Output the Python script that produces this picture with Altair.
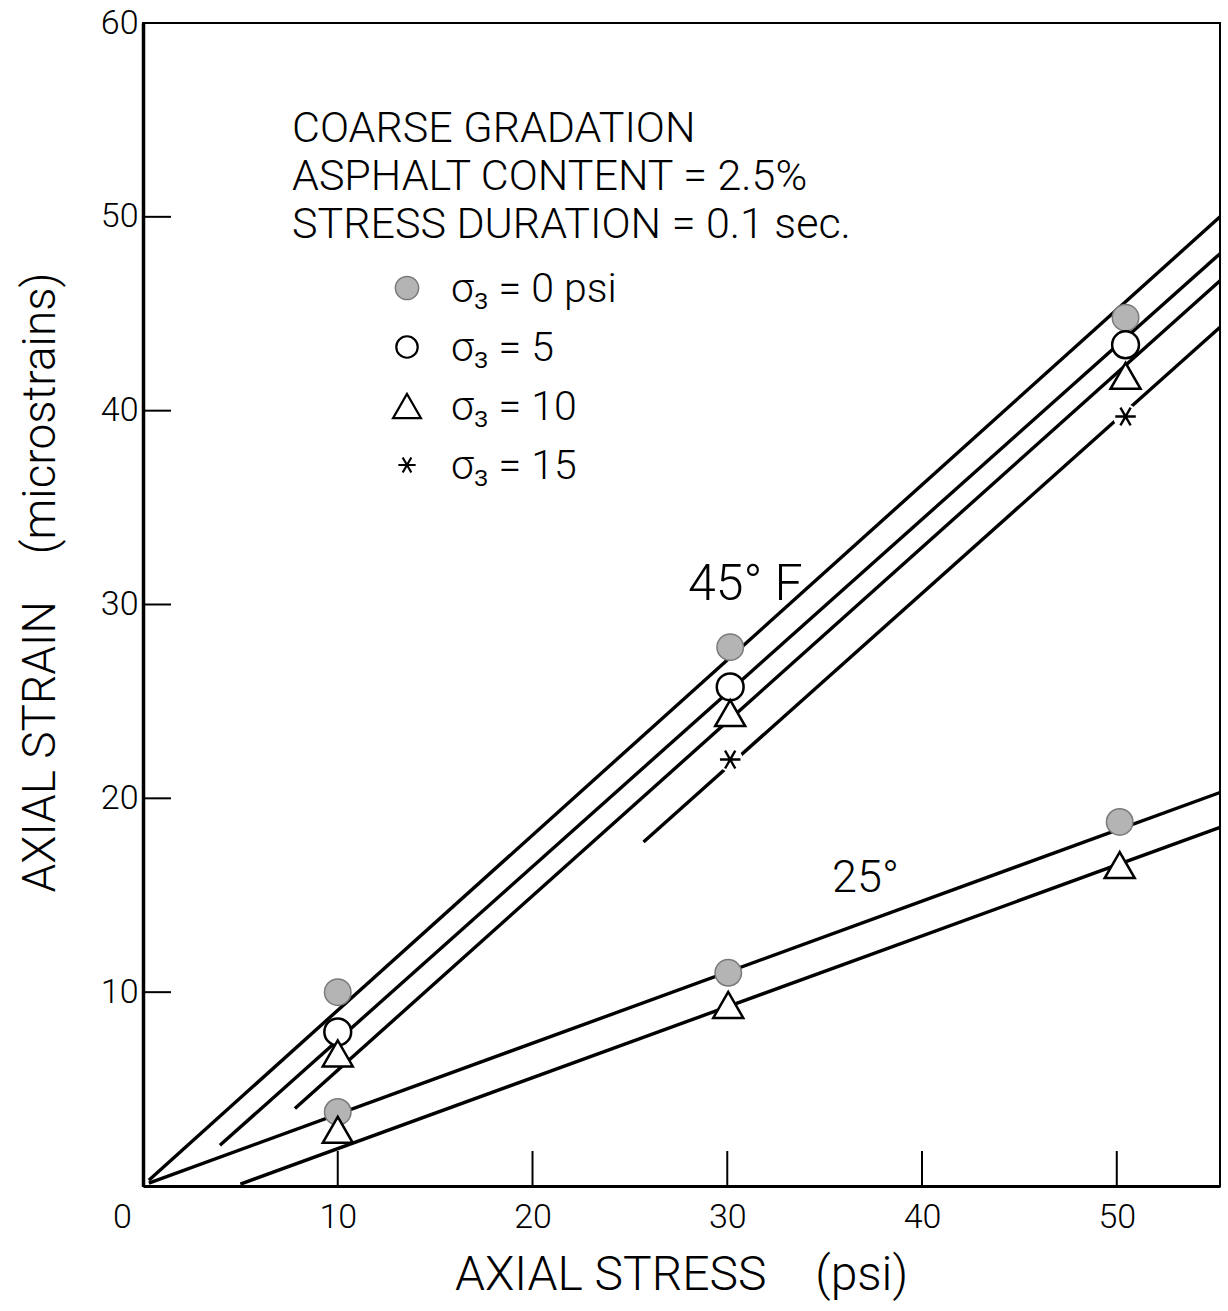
import altair as alt
import pandas as pd

# ---------------- data ----------------
stress45 = [10.0, 30.15, 50.45]
stress25 = [10.0, 30.05, 50.15]
s45_p0 = [10.0, 27.8, 44.8]
s45_p5 = [7.95, 25.75, 43.4]
s45_p10 = [6.84, 24.4, 41.8]
stress_p15 = [30.15, 50.45]
s45_p15 = [22.0, 39.7]
s25_p0 = [3.82, 11.0, 18.78]
s25_p10 = [2.9, 9.34, 16.56]

# fitted straight lines (start / end points as drawn)
line_names = ["45F s0", "45F s5", "45F s10", "45F s15", "25F s0", "25F s10"]
line_x1 = [0.3, 3.95, 7.8, 25.7, 0.3, 5.0]
line_y1 = [0.3, 2.1, 4.0, 17.75, 0.15, 0.1]
line_x2 = [55.3, 55.3, 55.3, 55.3, 55.3, 55.3]
line_y2 = [50.0, 48.1, 46.7, 44.3, 20.3, 18.5]

x_ticks = [0, 10, 20, 30, 40, 50]
y_ticks = [10, 20, 30, 40, 50, 60]
inner_x_ticks = [10, 20, 30, 40, 50]
inner_y_ticks = [10, 20, 30, 40, 50]

legend_labels = ["σ₃ = 0 psi", "σ₃ = 5", "σ₃ = 10", "σ₃ = 15"]
notes = ["COARSE GRADATION", "ASPHALT CONTENT = 2.5%", "STRESS DURATION = 0.1 sec."]

# ---------------- tables ----------------
pts = []
pts += [dict(x=a, y=b, m="filled") for a, b in zip(stress45, s45_p0)]
pts += [dict(x=a, y=b, m="filled") for a, b in zip(stress25, s25_p0)]
pts += [dict(x=a, y=b, m="open") for a, b in zip(stress45, s45_p5)]
pts += [dict(x=a, y=b, m="tri") for a, b in zip(stress45, s45_p10)]
pts += [dict(x=a, y=b, m="tri") for a, b in zip(stress25, s25_p10)]
pts += [dict(x=a, y=b, m="star") for a, b in zip(stress_p15, s45_p15)]
pts = pd.DataFrame(pts)

lines = pd.DataFrame(dict(name=line_names, x1=line_x1, y1=line_y1, x2=line_x2, y2=line_y2))
xt = pd.DataFrame(dict(t=inner_x_ticks))
yt = pd.DataFrame(dict(t=inner_y_ticks))

FONT = "Roboto"
W, H = 1077, 1163
XMAX, YMAX = 55.3, 60
xs = alt.Scale(domain=[0, XMAX], nice=False, zero=False)
ys = alt.Scale(domain=[0, YMAX], nice=False, zero=False)

STAR = "M-1,0L1,0M-0.5,-0.87L0.5,0.87M-0.5,0.87L0.5,-0.87"

x_axis = alt.Axis(
    values=x_ticks, ticks=False, tickSize=0, grid=False, domain=True,
    domainWidth=3, domainColor="black", labelFont=FONT, labelFontSize=34,
    labelFontWeight=300, labelColor="black", labelPadding=14, labelFlush=False,
    labelOffset={"condition": {"test": "datum.value === 0", "value": -21}, "value": 0},
    titleFont=FONT, titleFontSize=48,
    titleFontWeight=300, titleColor="black", titleX=538, titleY=89,
    titleAlign="center", titleBaseline="middle",
)
y_axis = alt.Axis(
    values=y_ticks, ticks=False, tickSize=0, grid=False, domain=True,
    domainWidth=3.5, domainColor="black", labelFont=FONT, labelFontSize=34,
    labelFontWeight=300, labelColor="black", labelPadding=5, labelFlush=False,
    titleFont=FONT, titleFontSize=46,
    titleFontWeight=300, titleColor="black", titleX=-103, titleY=559,
    titleAlign="center", titleBaseline="middle", titleAngle=270,
)
X_TITLE = "AXIAL STRESS\u2003(psi)"
Y_TITLE = "AXIAL STRAIN\u2003(microstrains)"


def X(field):
    return alt.X(field, scale=xs, axis=x_axis, title=X_TITLE)


def Y(field):
    return alt.Y(field, scale=ys, axis=y_axis, title=Y_TITLE)


seg = alt.Chart(lines).mark_rule(color="black", strokeWidth=3.4, strokeCap="butt").encode(
    x=X("x1:Q"), y=Y("y1:Q"), x2="x2:Q", y2="y2:Q",
)

xtick = alt.Chart(xt).mark_rule(color="black", strokeWidth=2).encode(
    x=X("t:Q"), y=alt.value(H), y2=alt.value(H - 35)
)
ytick = alt.Chart(yt).mark_rule(color="black", strokeWidth=2).encode(
    y=Y("t:Q"), x=alt.value(0), x2=alt.value(28)
)


def pt_layer(kind):
    return alt.Chart(pts).transform_filter(alt.datum.m == kind).encode(
        x=X("x:Q"), y=Y("y:Q")
    )


filled = pt_layer("filled").mark_point(shape="circle", size=700, filled=True,
                                       fill="#b4b4b4", stroke="#7a7a7a", strokeWidth=1.5, opacity=1)
opened = pt_layer("open").mark_point(shape="circle", size=720, filled=True,
                                     fill="white", stroke="black", strokeWidth=2.5, opacity=1)
tri = pt_layer("tri").mark_point(shape="triangle-up", size=900, filled=True,
                                 fill="white", stroke="black", strokeWidth=2.5, opacity=1)
star_bg = pt_layer("star").mark_point(shape="circle", size=520, filled=True,
                                      fill="white", stroke="white", opacity=1)
star = pt_layer("star").mark_point(shape=STAR, size=420, filled=False,
                                   stroke="black", strokeWidth=2.4, opacity=1)

# ---------------- legend (drawn by hand) ----------------
leg_x = 264
leg_y0 = 265
leg_dy = 59
leg_shapes = [
    dict(shape="circle", size=540, filled=True, fill="#b4b4b4", stroke="#7a7a7a", strokeWidth=1.5),
    dict(shape="circle", size=460, filled=True, fill="white", stroke="black", strokeWidth=2.2),
    dict(shape="triangle-up", size=780, filled=True, fill="white", stroke="black", strokeWidth=2.2),
    dict(shape=STAR, size=300, filled=False, stroke="black", strokeWidth=2.2),
]
legend_layers = []
for i, (lab, sh) in enumerate(zip(legend_labels, leg_shapes)):
    one = pd.DataFrame(dict(label=[lab]))
    legend_layers.append(
        alt.Chart(one).mark_point(opacity=1, **sh).encode(
            x=alt.value(leg_x), y=alt.value(leg_y0 + i * leg_dy))
    )
    legend_layers.append(
        alt.Chart(one).mark_text(font=FONT, fontSize=41, fontWeight=300, align="left",
                                 baseline="alphabetic", color="black").encode(
            text="label:N", x=alt.value(leg_x + 44), y=alt.value(leg_y0 + i * leg_dy + 14))
    )

note_layers = []
for i, t in enumerate(notes):
    one = pd.DataFrame(dict(t=[t]))
    note_layers.append(
        alt.Chart(one).mark_text(font=FONT, fontSize=43, fontWeight=300, align="left",
                                 baseline="alphabetic", color="black").encode(
            text="t:N", x=alt.value(149), y=alt.value(119 + 48 * i))
    )

lab45 = alt.Chart(pd.DataFrame(dict(t=["45° F"]))).mark_text(
    font=FONT, fontSize=50, fontWeight=300, align="left", baseline="alphabetic", color="black"
).encode(text="t:N", x=alt.value(545), y=alt.value(577))
lab25 = alt.Chart(pd.DataFrame(dict(t=["25°"]))).mark_text(
    font=FONT, fontSize=45, fontWeight=300, align="left", baseline="alphabetic", color="black"
).encode(text="t:N", x=alt.value(689), y=alt.value(869))

chart = alt.layer(
    seg, xtick, ytick, star_bg, filled, opened, tri, star,
    *legend_layers, *note_layers, lab45, lab25,
).properties(
    width=W, height=H,
    autosize=alt.AutoSizeParams(type="none"),
    padding={"left": 143, "top": 23, "right": 8, "bottom": 125},
    background="white",
).configure_view(stroke="black", strokeWidth=2)

chart.save("out.html", embed_options={"renderer": "svg", "actions": False})
